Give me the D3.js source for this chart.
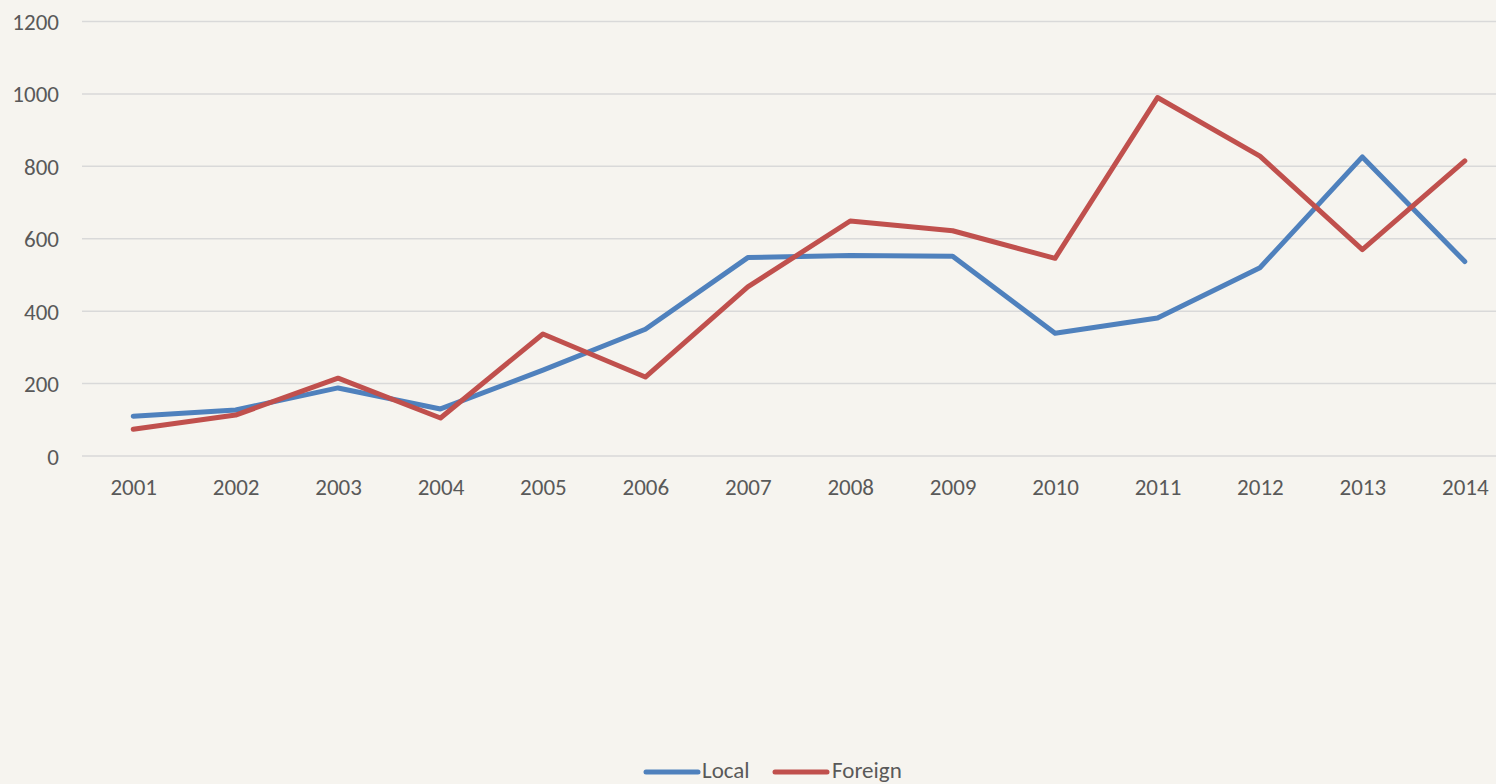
<!DOCTYPE html>
<html>
<head>
<meta charset="utf-8">
<script src="https://cdn.jsdelivr.net/npm/d3@7"></script>
<style>
html,body{margin:0;padding:0;background:#f6f4ef;overflow:hidden;}
svg{display:block;}
text{font-family:Carlito,Lato,"Open Sans",sans-serif;fill:#595959;}
</style>
</head>
<body>
<svg id="chart" width="1496" height="784"></svg>
<script>
const years = ["2001","2002","2003","2004","2005","2006","2007","2008","2009","2010","2011","2012","2013","2014"];
const local = [110,127,188,130,237,350,548,554,552,339,381,520,826,537];
const foreign = [74,113,215,105,337,218,467,649,622,546,990,828,570,815];
const yTicks = [0,200,400,600,800,1000,1200];
const seriesNames = ["Local","Foreign"];
const colors = ["#4f81bd","#c0504d"];

const svg = d3.select("#chart");
const W = 1496, H = 784;
const plotLeft = 82, plotRight = 1516, plotTop = 21.5, plotBottom = 456;
const fontSize = "23px";

const x = d3.scalePoint().domain(years).range([plotLeft, plotRight]).padding(0.5);
const y = d3.scaleLinear().domain([0,1200]).range([plotBottom, plotTop]);

svg.append("rect").attr("width",W).attr("height",H).attr("fill","#f6f4ef");

// gridlines
svg.append("g").selectAll("line").data(yTicks).join("line")
  .attr("x1", plotLeft).attr("x2", W)
  .attr("y1", d=>y(d)).attr("y2", d=>y(d))
  .attr("stroke","#d9d9d9").attr("stroke-width",1.5);

// y axis labels
const yAxis = d3.axisLeft(y).tickValues(yTicks).tickSize(0).tickPadding(0).tickFormat(d3.format("d"));
const gy = svg.append("g").attr("transform","translate(59,0)").call(yAxis);
gy.select(".domain").remove();
gy.selectAll("text").style("font-size",fontSize).style("font-family","Carlito,Lato,sans-serif").attr("fill","#595959").attr("dy","0.35em");

// x axis labels
const xAxis = d3.axisBottom(x).tickSize(0).tickPadding(0);
const gx = svg.append("g").attr("transform","translate(0,"+(plotBottom+31)+")").call(xAxis);
gx.select(".domain").remove();
gx.selectAll("text").style("font-size",fontSize).style("font-family","Carlito,Lato,sans-serif").attr("fill","#595959").attr("dy","0.35em");

// lines
const line = d3.line().x((d,i)=>x(years[i])).y(d=>y(d));
[local, foreign].forEach((s,k)=>{
  svg.append("path").datum(s).attr("d", line)
    .attr("fill","none").attr("stroke",colors[k]).attr("stroke-width",5)
    .attr("stroke-linejoin","round").attr("stroke-linecap","round");
});

// legend
const legendY = 772;
const legendPos = [{x:646, tx:702},{x:775, tx:832}];
seriesNames.forEach((n,k)=>{
  const g = svg.append("g");
  g.append("line").attr("x1",legendPos[k].x).attr("x2",legendPos[k].x+52)
    .attr("y1",legendY).attr("y2",legendY).attr("stroke",colors[k]).attr("stroke-width",5)
    .attr("stroke-linecap","round");
  g.append("text").attr("x",legendPos[k].tx).attr("y",legendY).attr("dy","0.28em")
    .style("font-size",fontSize).text(n);
});
</script>
</body>
</html>
